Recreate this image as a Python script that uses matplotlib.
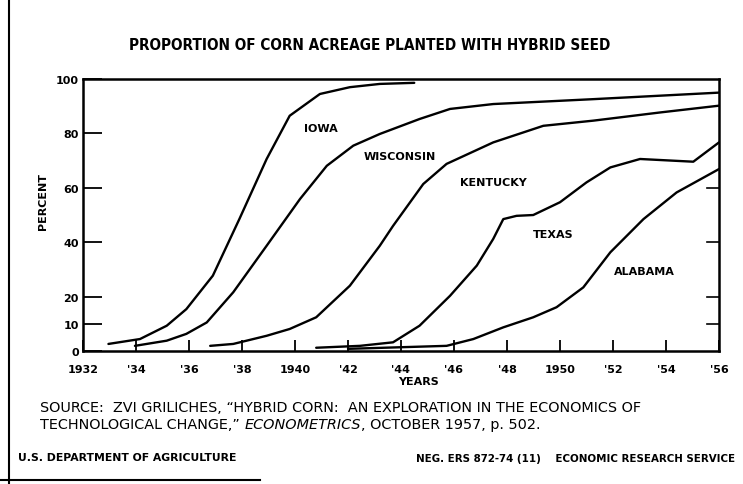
import matplotlib
matplotlib.use("Agg")
import matplotlib.pyplot as plt
from matplotlib.lines import Line2D

# percent of corn acreage planted with hybrid seed
iowa_x = [1932.96, 1934.15, 1935.16, 1935.9, 1936.9, 1937.9, 1938.93, 1939.8, 1940.94, 1942.07, 1943.2, 1944.5]
iowa_y = [2.6, 4.4, 9.3, 15.4, 27.7, 48.5, 70.6, 86.5, 94.5, 97.0, 98.2, 98.6]

wisc_x = [1933.96, 1935.16, 1935.9, 1936.67, 1937.67, 1938.93, 1940.19, 1941.2, 1942.2, 1943.2,
          1944.7, 1945.85, 1947.48, 1951.26, 1956.0]
wisc_y = [1.9, 3.8, 6.3, 10.5, 21.6, 38.7, 55.9, 68.1, 75.5, 79.8, 85.3, 89.0, 90.8, 92.6, 95.0]

kent_x = [1936.8, 1937.67, 1938.93, 1939.8, 1940.8, 1942.07, 1943.2, 1943.7, 1944.84, 1945.72,
          1947.48, 1949.37, 1951.26, 1953.77, 1956.0]
kent_y = [1.9, 2.6, 5.6, 8.1, 12.4, 24.0, 38.7, 46.0, 61.4, 68.8, 76.7, 82.8, 84.7, 87.7, 90.2]

texas_x = [1940.8, 1942.45, 1943.7, 1944.7, 1945.85, 1946.86, 1947.48, 1947.86, 1948.36, 1948.99,
           1950.0, 1951.0, 1951.9, 1953.02, 1955.03, 1956.0]
texas_y = [1.2, 1.9, 3.2, 9.3, 20.3, 31.4, 41.2, 48.5, 49.7, 50.0, 54.7, 62.0, 67.5, 70.6, 69.6, 76.7]

bama_x = [1942.0, 1945.72, 1946.73, 1947.86, 1948.99, 1949.87, 1950.88, 1951.9, 1953.15, 1954.4, 1956.0]
bama_y = [0.8, 1.9, 4.4, 8.7, 12.4, 16.1, 23.4, 36.3, 48.5, 58.3, 66.9]

xticks = list(range(1932, 1957, 2))
xlabels = ["1932", "'34", "'36", "'38", "1940", "'42", "'44", "'46", "'48", "1950", "'52", "'54", "'56"]
yticks = [0, 10, 20, 40, 60, 80, 100]

labels = [("IOWA", 1940.98, 82.0), ("WISCONSIN", 1943.96, 71.7), ("KENTUCKY", 1947.47, 62.1),
          ("TEXAS", 1949.74, 43.0), ("ALABAMA", 1953.2, 29.4)]

fig = plt.figure(figsize=(7.43, 4.85), dpi=100)
ax = fig.add_axes([0.1117, 0.2742, 0.856, 0.5608])

for xs, ys in [(iowa_x, iowa_y), (wisc_x, wisc_y), (kent_x, kent_y), (texas_x, texas_y), (bama_x, bama_y)]:
    ax.plot(xs, ys, color="black", lw=1.7, solid_joinstyle="round", solid_capstyle="round")

for name, lx, ly in labels:
    ax.text(lx, ly, name, ha="center", va="center", fontsize=8, fontweight="bold")

ax.set_xlim(1932, 1956)
ax.set_ylim(0, 100)
ax.set_xticks(xticks)
ax.set_xticklabels(xlabels, fontsize=8, fontweight="bold")
ax.set_yticks(yticks)
ax.set_yticklabels([str(v) for v in yticks], fontsize=8, fontweight="bold")
ax.tick_params(axis="x", direction="in", length=8, width=1.3, pad=9)
ax.tick_params(axis="y", direction="in", length=14, width=1.3, pad=3)
for s in ax.spines.values():
    s.set_linewidth(1.8)

# inward ticks on the right border
for v in [10, 20, 40, 60]:
    ax.plot([1955.55, 1956], [v, v], color="black", lw=1.2, clip_on=False)

fig.text(0.4975, 0.907, "PROPORTION OF CORN ACREAGE PLANTED WITH HYBRID SEED",
         ha="center", va="center", fontsize=11, fontweight="bold", fontstretch="condensed")
fig.text(0.058, 0.585, "PERCENT", rotation=90, ha="center", va="center", fontsize=8, fontweight="bold")
fig.text(0.563, 0.212, "YEARS", ha="center", va="center", fontsize=8, fontweight="bold")

fs = 10.4
fig.text(0.054, 0.158, "SOURCE:  ZVI GRILICHES, \u201cHYBRID CORN:  AN EXPLORATION IN THE ECONOMICS OF",
         ha="left", va="center", fontsize=fs)
t = fig.text(0.054, 0.124, "TECHNOLOGICAL CHANGE,\u201d ", ha="left", va="center", fontsize=fs)
fig.canvas.draw()
renderer = fig.canvas.get_renderer()
bb = t.get_window_extent(renderer)
t2 = fig.text(bb.x1 / fig.bbox.width, 0.124, "ECONOMETRICS", ha="left", va="center", fontsize=fs, style="italic")
bb2 = t2.get_window_extent(renderer)
fig.text(bb2.x1 / fig.bbox.width, 0.124, ", OCTOBER 1957, p. 502.", ha="left", va="center", fontsize=fs)

fig.text(0.024, 0.055, "U.S. DEPARTMENT OF AGRICULTURE", ha="left", va="center", fontsize=7.8, fontweight="bold")
fig.text(0.99, 0.053, "NEG. ERS 872-74 (11)    ECONOMIC RESEARCH SERVICE", ha="right", va="center",
         fontsize=7.4, fontweight="bold")

# scan border lines
fig.add_artist(Line2D([0.012, 0.012], [0.0, 1.0], color="black", lw=1.5, transform=fig.transFigure))
fig.add_artist(Line2D([0.0, 0.35], [0.008, 0.008], color="black", lw=1.5, transform=fig.transFigure))

fig.savefig("out.png", dpi=100)
